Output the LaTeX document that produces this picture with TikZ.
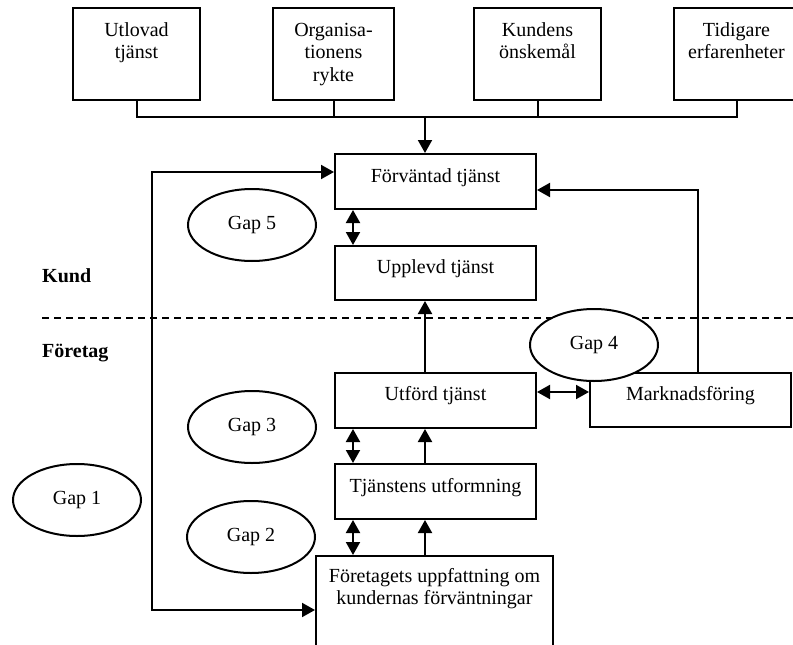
\documentclass[tikz,border=0pt]{standalone}
\usepackage{fontspec}
\setmainfont{Liberation Serif}
\usetikzlibrary{arrows.meta,shapes.geometric}
\begin{document}
\begin{tikzpicture}[x=1pt,y=-1pt,
  every node/.style={font=\fontsize{20}{22.5}\selectfont},
  stroke/.style={line width=2pt},
  box/.style={stroke,draw,rectangle,anchor=north west,inner sep=0pt,align=center},
  gap/.style={stroke,draw,ellipse,fill=white,inner sep=0pt,minimum width=128pt,minimum height=72pt},
  arr/.style={stroke,-{Triangle[length=13pt,width=14pt]}},
  dbl/.style={stroke,{Triangle[length=13pt,width=14pt]}-{Triangle[length=13pt,width=14pt]}},
  side/.style={font=\fontsize{20}{22.5}\selectfont\bfseries,anchor=base west,inner sep=0pt}]
\useasboundingbox (0,0) rectangle (793,645);

% customer expectation sources (first baseline 28pt below the top edge)
\node[box,minimum width=127pt,minimum height=92pt,text height=50.5pt,text depth=41.5pt] (u) at (72,7) {Utlovad\\tjänst};
\node[box,minimum width=121pt,minimum height=92pt,text height=73pt,text depth=19pt] (o) at (272,7) {Organisa-\\tionens\\rykte};
\node[box,minimum width=127pt,minimum height=92pt,text height=50.5pt,text depth=41.5pt] (k) at (473,7) {Kundens\\önskemål};
\node[box,minimum width=125pt,minimum height=92pt,text height=50.5pt,text depth=41.5pt] (t) at (673,7) {Tidigare\\erfarenheter};

% service boxes
\node[box,minimum width=201pt,minimum height=55pt,text height=28pt,text depth=27pt] (f) at (334,153) {Förväntad tjänst};
\node[box,minimum width=201pt,minimum height=54pt,text height=27pt,text depth=27pt] (p) at (334,245) {Upplevd tjänst};
\node[box,minimum width=201pt,minimum height=55pt,text height=27pt,text depth=28pt] (e) at (334,372) {Utförd tjänst};
\node[box,minimum width=201pt,minimum height=54pt,text height=27pt,text depth=27pt] (m) at (589,372) {Marknadsföring};
\node[box,minimum width=201pt,minimum height=55pt,text height=28pt,text depth=27pt] (s) at (334,463) {Tjänstens utformning};
\node[box,minimum width=237pt,minimum height=105pt,text height=48.5pt,text depth=56.5pt] (b) at (315,555) {Företagets uppfattning om\\kundernas förväntningar};

% helper coordinates
\coordinate (bus) at (425,117);
\coordinate (dx) at (353,0);
\coordinate (ax) at (425,0);
\coordinate (em) at (0,392);
\coordinate (g1top) at (152,172);
\coordinate (g1bot) at (152,610);
\coordinate (mk) at (698,190);
\coordinate (dl1) at (42,318);
\coordinate (dl2) at (793,318);

% collecting bus
\draw[stroke] (u.south) -- (u.south |- bus) -- (t.south |- bus) -- (t.south);
\draw[stroke] (o.south) -- (o.south |- bus);
\draw[stroke] (k.south) -- (k.south |- bus);
\draw[arr] (bus) -- (bus |- f.north);

% gap connectors
\draw[dbl] (f.south -| dx) -- (p.north -| dx);
\draw[dbl] (e.south -| dx) -- (s.north -| dx);
\draw[dbl] (s.south -| dx) -- (b.north -| dx);
\draw[arr] (e.north -| ax) -- (p.south -| ax);
\draw[arr] (s.north -| ax) -- (e.south -| ax);
\draw[arr] (b.north -| ax) -- (s.south -| ax);
\draw[dbl] (e.east |- em) -- (m.west |- em);
\draw[dbl] (f.west |- g1top) -- (g1top) -- (g1bot) -- (b.west |- g1bot);
\draw[arr] (m.north -| mk) -- (mk) -- (f.east |- mk);

% customer / company divide
\draw[stroke,dash pattern=on 7pt off 5pt] (dl1) -- (dl2);
\node[side] (kund) at (42,282) {Kund};
\node[side] (foretag) at (42,357) {Företag};

% gaps
\node[gap] (gap5) at (252,225) {Gap 5};
\node[gap] (gap4) at (594,345) {Gap 4};
\node[gap] (gap3) at (252,427) {Gap 3};
\node[gap] (gap2) at (251,537) {Gap 2};
\node[gap] (gap1) at (77,500) {Gap 1};
\end{tikzpicture}
\end{document}
